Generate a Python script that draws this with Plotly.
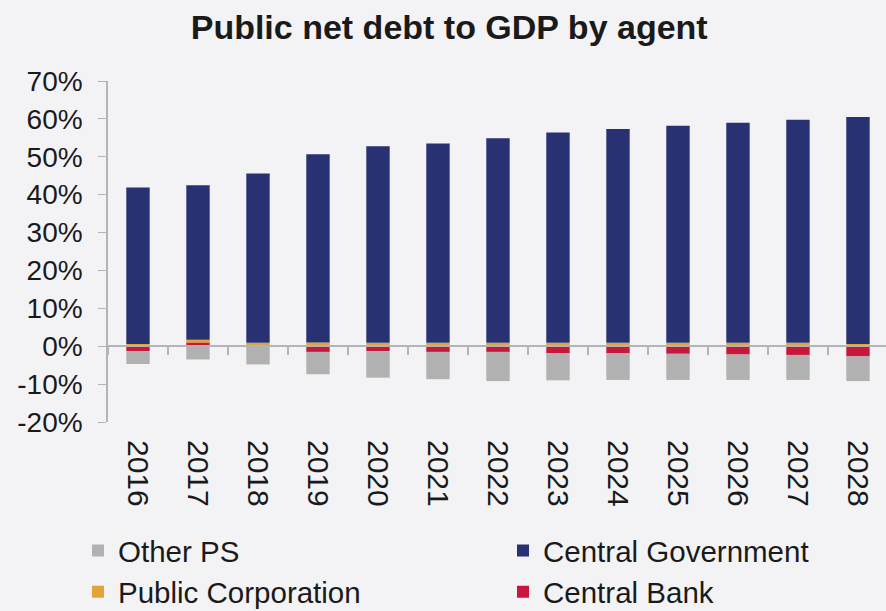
import plotly.graph_objects as go

# Public net debt to GDP, by agent (% of GDP)
years = ["2016", "2017", "2018", "2019", "2020", "2021", "2022",
         "2023", "2024", "2025", "2026", "2027", "2028"]
central_bank = [-1.3, 1.0, -0.1, -1.5, -1.3, -1.5, -1.5, -1.8, -1.9, -2.0, -2.2, -2.3, -2.7]
public_corporation = [0.6, 0.7, 0.9, 1.0, 0.9, 0.9, 0.9, 0.9, 0.9, 0.9, 0.9, 0.9, 0.6]
central_government = [41.3, 40.8, 44.7, 49.7, 51.9, 52.6, 54.0, 55.5, 56.4, 57.3, 58.1, 58.9, 59.9]
other_ps = [-3.4, -3.5, -4.7, -5.9, -7.0, -7.2, -7.7, -7.2, -7.0, -6.9, -6.7, -6.6, -6.5]

y_ticks = [-20, -10, 0, 10, 20, 30, 40, 50, 60, 70]
y_tick_text = [f"{v}%" for v in y_ticks]

FONT = "Liberation Sans, Arial, sans-serif"
TEXT = "#1a1a1a"
AXIS = "#b4b4b8"

# stacking order: first trace sits nearest the zero line;
# the last field picks the legend column
series = [
    ("Central Bank", central_bank, "#c8173a", "legend2"),
    ("Public Corporation", public_corporation, "#e3a437", "legend"),
    ("Central Government", central_government, "#283172", "legend2"),
    ("Other PS", other_ps, "#b1b1b1", "legend"),
]
legend_rank = {"Other PS": 1, "Public Corporation": 2,
               "Central Government": 1, "Central Bank": 2}

fig = go.Figure()
for name, vals, color, leg in series:
    fig.add_trace(go.Bar(
        x=years, y=vals, name=name, marker_color=color,
        marker_line_width=0, legend=leg, legendrank=legend_rank[name],
    ))

# helper trace so the category axis drawn through zero exists
fig.add_trace(go.Bar(x=years, y=[0] * len(years), xaxis="x2",
                     showlegend=False, hoverinfo="skip", marker_line_width=0))

y_min, y_max = -20, 70
zero_pos = (0 - y_min) / (y_max - y_min)
x_range = [-0.5, 12.467]

legend_style = dict(
    orientation="v", xref="container", yref="container",
    xanchor="left", yanchor="top", y=0.141,
    traceorder="normal", font=dict(size=29.5, color=TEXT),
    bgcolor="rgba(0,0,0,0)", itemwidth=30,
)

fig.update_layout(
    width=886, height=611,
    margin=dict(l=108, r=0, t=81, b=189, autoexpand=False),
    paper_bgcolor="#f3f3f6", plot_bgcolor="#f3f3f6",
    barmode="relative", bargap=0.61,
    font=dict(family=FONT, color=TEXT, size=28),
    title=dict(
        text="<b>Public net debt to GDP by agent</b>",
        x=0.507, xanchor="center", y=0.955, yanchor="middle",
        font=dict(family=FONT, size=34, color=TEXT),
    ),
    xaxis=dict(
        type="category", range=x_range, showline=False, ticks="",
        showgrid=False, tickangle=90, ticklabelstandoff=17, automargin=False,
        tickfont=dict(size=30, color=TEXT),
    ),
    xaxis2=dict(
        type="category", overlaying="x", anchor="free", position=zero_pos,
        range=x_range, showline=True, linecolor=AXIS, linewidth=2,
        ticks="outside", tickson="boundaries", ticklen=8, tickcolor=AXIS,
        tickwidth=1.5, showticklabels=False, showgrid=False,
    ),
    yaxis=dict(
        range=[y_min, y_max], tickvals=y_ticks, ticktext=y_tick_text,
        showgrid=False, zeroline=False, showline=True, linecolor=AXIS,
        linewidth=1.5, ticks="outside", ticklen=8, tickcolor=AXIS,
        ticklabelstandoff=10, automargin=False,
        tickfont=dict(size=28, color=TEXT),
    ),
    legend=dict(x=78 / 886, **legend_style),
    legend2=dict(x=503 / 886, **legend_style),
)

fig.write_html("out.html")
